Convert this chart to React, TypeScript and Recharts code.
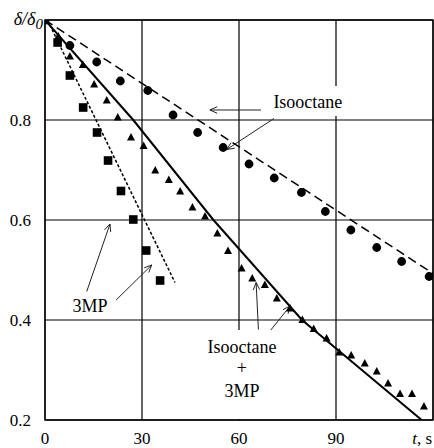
import React from "react";
import {
  CartesianGrid,
  ComposedChart,
  Line,
  ReferenceArea,
  ReferenceDot,
  ReferenceLine,
  Scatter,
  XAxis,
  YAxis,
} from "recharts";

const FONT = "Liberation Serif";
const txt = { fontFamily: FONT };

const xTicks = [0, 30, 60, 90, 120];
const yTicks = [0.2, 0.4, 0.6, 0.8, 1.0];

// Isooctane (circles) and its dashed fit
const isoX = [7.7, 16.0, 23.3, 31.8, 39.6, 47.2, 55.1, 63.1, 70.9, 79.3, 86.7, 94.6, 102.6, 110.3, 118.8];
const isoY = [0.949, 0.916, 0.878, 0.859, 0.81, 0.775, 0.745, 0.712, 0.684, 0.655, 0.617, 0.58, 0.545, 0.517, 0.487];
const isoFitX = [0, 120];
const isoFitY = [1.0, 0.493];

// 3MP (squares) and its dotted fit
const mpX = [0, 3.9, 7.7, 11.8, 16.1, 19.5, 23.5, 27.3, 31.3, 35.6];
const mpY = [1.0, 0.955, 0.889, 0.825, 0.775, 0.719, 0.658, 0.601, 0.539, 0.479];
const mpFitX = [1.5, 40.2];
const mpFitY = [0.99, 0.475];

// Isooctane + 3MP (triangles) and its solid fit
const mixX = [4.1, 7.7, 11.7, 15.2, 19.1, 22.5, 26.6, 30.5, 34.1, 38.3, 41.8, 45.6, 49.5, 53.3, 56.6, 60.8, 64.1, 68.0, 71.7, 75.8, 79.6, 83.1, 87.1, 91.0, 94.7, 98.9, 102.6, 106.1, 109.8, 113.5, 117.2];
const mixY = [0.967, 0.927, 0.91, 0.871, 0.839, 0.805, 0.765, 0.748, 0.699, 0.68, 0.657, 0.625, 0.607, 0.573, 0.538, 0.503, 0.483, 0.47, 0.443, 0.423, 0.4, 0.382, 0.363, 0.335, 0.329, 0.313, 0.297, 0.273, 0.252, 0.252, 0.227];
const mixFitX = [0, 27.3, 52.1, 79.5, 116.5];
const mixFitY = [1.0, 0.8, 0.6, 0.4, 0.2];

// annotation arrows, tail -> head, in data units
const arrows = [
  { x1: 66.8, y1: 0.82, x2: 51.0, y2: 0.82 },
  { x1: 70.8, y1: 0.803, x2: 56.2, y2: 0.741 },
  { x1: 12.9, y1: 0.457, x2: 20.1, y2: 0.592 },
  { x1: 22.0, y1: 0.44, x2: 33.0, y2: 0.51 },
  { x1: 66.0, y1: 0.381, x2: 65.3, y2: 0.475 },
  { x1: 68.6, y1: 0.37, x2: 75.8, y2: 0.428 },
];

// text labels: anchor is the first line's baseline centre
const labels = [
  { x: 81.3, y: 0.824, lines: ["Isooctane"], box: [-40, -22, 78, 30] },
  { x: 13.9, y: 0.416, lines: ["3MP"], box: null },
  { x: 60.9, y: 0.334, lines: ["Isooctane", "+", "3MP"], box: [-38, -23, 76, 89] },
];

const zip = (xs: number[], ys: number[]) => xs.map((x, i) => ({ x, y: ys[i] }));

const isoPts = zip(isoX, isoY);
const isoFit = zip(isoFitX, isoFitY);
const mpPts = zip(mpX, mpY);
const mpFit = zip(mpFitX, mpFitY);
const mixPts = zip(mixX, mixY);
const mixFit = zip(mixFitX, mixFitY);

const CircleDot = ({ cx, cy }: any) => <circle cx={cx} cy={cy} r={4.4} fill="#000" />;
const SquareDot = ({ cx, cy }: any) => (
  <rect x={cx - 4.3} y={cy - 4.3} width={8.6} height={8.6} fill="#000" />
);
const TriDot = ({ cx, cy }: any) => (
  <polygon points={`${cx},${cy - 4.5} ${cx - 4},${cy + 3} ${cx + 4},${cy + 3}`} fill="#000" />
);

function Arrow(props: any) {
  const { x1, y1, x2, y2 } = props;
  const ang = Math.atan2(y2 - y1, x2 - x1);
  const len = 8;
  const spread = 0.42;
  const ax = x2 - len * Math.cos(ang - spread);
  const ay = y2 - len * Math.sin(ang - spread);
  const bx = x2 - len * Math.cos(ang + spread);
  const by = y2 - len * Math.sin(ang + spread);
  return (
    <g stroke="#222" strokeWidth={1} fill="none">
      <line x1={x1} y1={y1} x2={x2} y2={y2} />
      <polyline points={`${ax},${ay} ${x2},${y2} ${bx},${by}`} />
    </g>
  );
}

function TextBox({ cx, cy, lines, box }: any) {
  const steps = [0, 21, 44];
  return (
    <g>
      {box && (
        <rect x={cx + box[0]} y={cy + box[1]} width={box[2]} height={box[3]} fill="#fff" />
      )}
      {lines.map((t: string, i: number) => (
        <text key={i} x={cx} y={cy + steps[i]} textAnchor="middle" style={txt} fontSize={18} fill="#000">
          {t}
        </text>
      ))}
    </g>
  );
}

function XTick({ x, payload }: any) {
  if (payload.value === 120) {
    return (
      <text x={432} y={444} textAnchor="end" style={txt} fontSize={17} fill="#000">
        <tspan fontStyle="italic">t</tspan>, s
      </text>
    );
  }
  return (
    <text x={x} y={444} textAnchor="middle" style={txt} fontSize={17} fill="#000">
      {payload.value}
    </text>
  );
}

function YTick({ y, payload }: any) {
  if (payload.value === 1) {
    return (
      <text x={43} y={y + 5} textAnchor="end" style={txt} fontSize={18} fontStyle="italic" fill="#000">
        δ/δ<tspan dy={4} fontSize={15}>0</tspan>
      </text>
    );
  }
  return (
    <text x={31} y={y + 5.5} textAnchor="end" style={txt} fontSize={17} fill="#000">
      {payload.value.toFixed(1)}
    </text>
  );
}

export default function App() {
  return (
    <div style={{ position: "absolute", left: 0, top: 0, width: 434, height: 448, background: "#fff", fontFamily: FONT }}>
      <ComposedChart width={434} height={448} margin={{ top: 20, right: 1, bottom: 0, left: 0 }}>
        <XAxis
          type="number"
          dataKey="x"
          domain={[0, 120]}
          ticks={xTicks}
          allowDataOverflow
          axisLine={false}
          tickLine={false}
          height={28}
          tick={<XTick />}
        />
        <YAxis
          type="number"
          domain={[0.2, 1]}
          ticks={yTicks}
          allowDataOverflow
          axisLine={false}
          tickLine={false}
          width={45}
          tick={<YTick />}
        />
        <CartesianGrid horizontal={false} stroke="#555" strokeWidth={1.8} />
        <CartesianGrid vertical={false} stroke="#000" strokeWidth={1.2} />
        {labels.map((l, i) => (
          <ReferenceDot
            key={`lab${i}`}
            x={l.x}
            y={l.y}
            r={1}
            shape={(p: any) => <TextBox cx={p.cx} cy={p.cy} lines={l.lines} box={l.box} />}
          />
        ))}
        <ReferenceArea x1={0} x2={120} y1={0.2} y2={1} fill="none" stroke="#000" strokeWidth={1.3} />
        {arrows.map((a, i) => (
          <ReferenceLine
            key={`arr${i}`}
            segment={[
              { x: a.x1, y: a.y1 },
              { x: a.x2, y: a.y2 },
            ]}
            shape={Arrow}
          />
        ))}
        <Line data={isoFit} dataKey="y" stroke="#000" strokeWidth={1.5} strokeDasharray="9 5" dot={false} isAnimationActive={false} />
        <Line data={mpFit} dataKey="y" stroke="#000" strokeWidth={1.5} strokeDasharray="3 2" dot={false} isAnimationActive={false} />
        <Line data={mixFit} dataKey="y" stroke="#000" strokeWidth={2} dot={false} isAnimationActive={false} />
        <Scatter data={isoPts} dataKey="y" shape={CircleDot} isAnimationActive={false} />
        <Scatter data={mixPts} dataKey="y" shape={TriDot} isAnimationActive={false} />
        <Scatter data={mpPts} dataKey="y" shape={SquareDot} isAnimationActive={false} />
      </ComposedChart>
    </div>
  );
}
